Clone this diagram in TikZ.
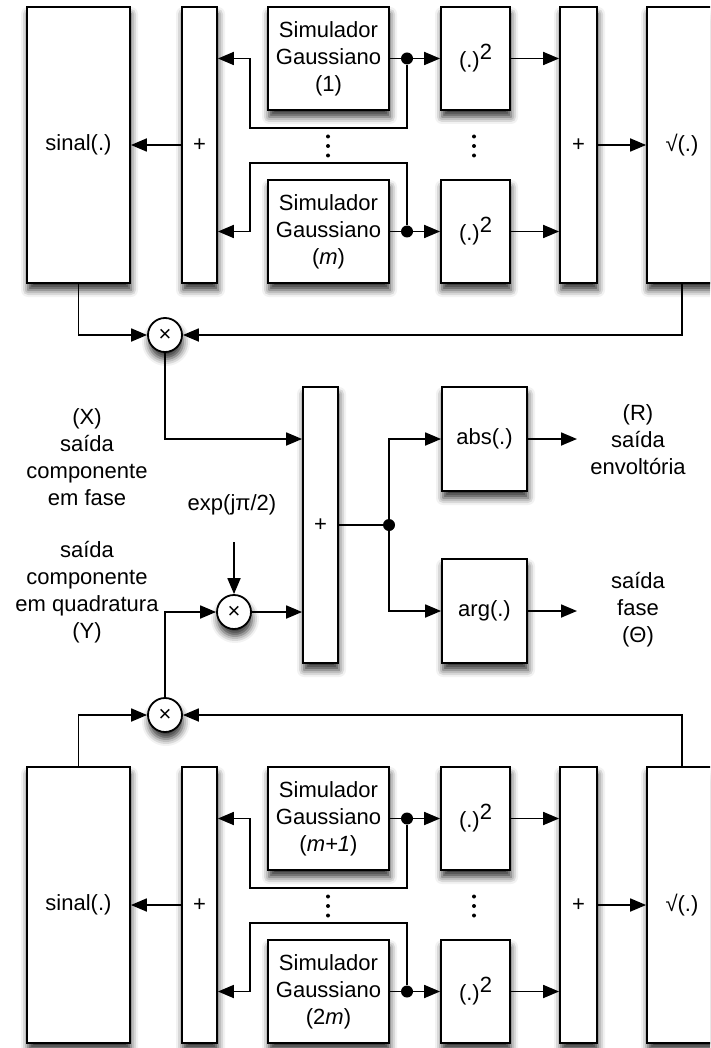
\documentclass[tikz,border=0pt]{standalone}
\usepackage{fontspec}
\setmainfont{Liberation Sans}
\usetikzlibrary{arrows.meta,shadows.blur}

\tikzset{
  blk/.style={draw, line width=1.8pt, fill=white, inner sep=0pt, align=center,
    blur shadow={shadow xshift=1pt, shadow yshift=-7pt, shadow blur radius=7pt, shadow opacity=80}},
  mult/.style={circle, draw, line width=1.8pt, fill=white, inner sep=0pt, minimum size=34pt,
    blur shadow={shadow xshift=1pt, shadow yshift=-7pt, shadow blur radius=7pt, shadow opacity=80}},
  dot/.style={circle, fill=black, inner sep=0pt, minimum size=12pt},
  lbl/.style={align=center, inner sep=0pt},
  wire/.style={line width=1.8pt},
  sig/.style={line width=1.8pt, -{Triangle[length=16pt,width=13pt]}}
}

\begin{document}
\begin{tikzpicture}[x=1pt, y=-1pt, font=\fontsize{22}{27}\selectfont]
  \useasboundingbox (0,0) rectangle (710,1048);
  \clip (0,0) rectangle (710,1048);

  % the two banks of Gaussian simulators
  \foreach \s/\dy/\na/\nb in {T/0/{(1)}/{(\textit{m})}, B/760/{(\textit{m+1})}/{(2\textit{m})}} {
    \begin{scope}[shift={(0,\dy)}]
      \node[blk, minimum width=103pt, minimum height=276pt] (sinal\s) at (78.5,145) {sinal(.)};
      \node[blk, minimum width=35pt, minimum height=276pt] (sumA\s) at (199.5,145) {+};
      \node[blk, minimum width=121pt, minimum height=103pt] (simA\s) at (328.5,58.5) {Simulador\\Gaussiano\\\na};
      \node[blk, minimum width=121pt, minimum height=103pt] (simB\s) at (328.5,231.5) {Simulador\\Gaussiano\\\nb};
      \node[blk, minimum width=69pt, minimum height=103pt] (sqA\s) at (475.5,58.5) {(.)\raisebox{8pt}{2}};
      \node[blk, minimum width=69pt, minimum height=103pt] (sqB\s) at (475.5,231.5) {(.)\raisebox{8pt}{2}};
      \node[blk, minimum width=37pt, minimum height=276pt] (sumB\s) at (578.5,145) {+};
      \node[blk, minimum width=70pt, minimum height=276pt] (root\s) at (682,145) {√(.)};
      \node[dot] (tapA\s) at (407,58.5) {};
      \node[dot] (tapB\s) at (407,231.5) {};
      \coordinate (retA\s) at (250,128);
      \coordinate (retB\s) at (250,163);
      % outputs and the loops back to the adder
      \draw[wire] (simA\s) -- (tapA\s);
      \draw[wire] (simB\s) -- (tapB\s);
      \draw[sig] (tapA\s) -- (sqA\s);
      \draw[sig] (tapB\s) -- (sqB\s);
      \draw[sig] (tapA\s) |- (retA\s) |- (sumA\s.east |- tapA\s);
      \draw[sig] (tapB\s) |- (retB\s) |- (sumA\s.east |- tapB\s);
      \draw[sig] (sumA\s) -- (sinal\s);
      \draw[sig] (sqA\s) -- (sumB\s.west |- sqA\s);
      \draw[sig] (sqB\s) -- (sumB\s.west |- sqB\s);
      \draw[sig] (sumB\s) -- (root\s);
      \foreach \k in {-1,0,1} {
        \fill (328,146+9.5*\k) circle (2pt);
        \fill (474,146+9.5*\k) circle (2pt);
      }
    \end{scope}
  }

  % combining stage
  \node[mult] (mulX) at (165,335) {×};
  \node[mult] (mulY) at (165,715) {×};
  \node[mult] (rot) at (234,612) {×};
  \node[blk, minimum width=35pt, minimum height=276pt] (sumC) at (320.5,525) {+};
  \node[blk, minimum width=85pt, minimum height=104pt] (absb) at (484.5,439) {abs(.)};
  \node[blk, minimum width=85pt, minimum height=104pt] (argb) at (484.5,611) {arg(.)};
  \node[dot] (split) at (389,525) {};

  \node[lbl] (outX) at (87,457) {(X)\\saída\\componente\\em fase};
  \node[lbl] (outY) at (87,592) {saída\\componente\\em quadratura\\(Y)};
  \node[lbl] (phase) at (232,505) {exp(jπ/2)};
  \node[lbl] (outR) at (638,440) {(R)\\saída\\envoltória};
  \node[lbl] (outT) at (638,610) {saída\\fase\\(Θ)};
  \coordinate (rotin) at (234,542);
  \coordinate (endR) at (577,439);
  \coordinate (endT) at (577,611);

  \draw[sig] (sinalT.south) |- (mulX);
  \draw[sig] (rootT.south) |- (mulX);
  \draw[sig] (sinalB.north) |- (mulY);
  \draw[sig] (rootB.north) |- (mulY);
  \draw[sig] (mulX) |- (sumC.west |- absb);
  \draw[sig] (mulY) |- (rot);
  \draw[sig] (rotin) -- (rot);
  \draw[sig] (rot) -- (sumC.west |- rot);
  \draw[wire] (sumC.east |- split) -- (split);
  \draw[sig] (split) |- (absb);
  \draw[sig] (split) |- (argb);
  \draw[sig] (absb) -- (endR);
  \draw[sig] (argb) -- (endT);
\end{tikzpicture}
\end{document}
